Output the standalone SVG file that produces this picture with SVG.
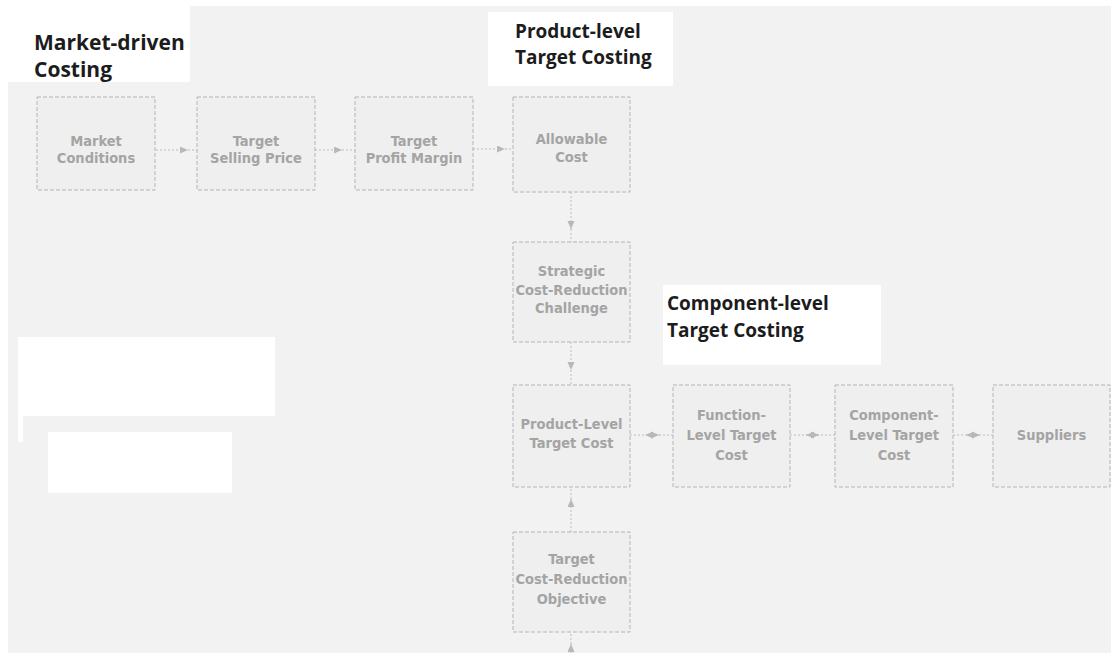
<svg xmlns="http://www.w3.org/2000/svg" width="1117" height="657" viewBox="0 0 1117 657">
<style>
.box{fill:#efefef;stroke:#b4b4b4;stroke-width:1;stroke-dasharray:4 2}
.bt{font-family:"Liberation Sans Narrow","DejaVu Sans Condensed","Roboto Condensed","Liberation Sans",sans-serif;font-stretch:condensed;font-size:14.5px;font-weight:bold;fill:#a4a4a4;text-anchor:middle}
.lbl{font-family:"Open Sans","Liberation Sans",sans-serif;font-weight:bold;fill:#1c1c1c}
.con{fill:none;stroke:#bcbcbc;stroke-width:1;stroke-dasharray:2 2}
.wh{fill:#ffffff}
</style>
<defs>
<marker id="ah" markerUnits="userSpaceOnUse" markerWidth="9" markerHeight="8" refX="8" refY="3.5" orient="auto">
<path d="M0,0 L8,3.5 L0,7 z" fill="#b8b8b8"/>
</marker>
</defs>
<rect x="0" y="0" width="1117" height="657" fill="#ffffff"/>
<rect x="8" y="6" width="1103" height="647" fill="#f2f2f2"/>
<g id="blank-patches">
<rect class="wh" x="18" y="337" width="257" height="79"/>
<rect class="wh" x="18" y="416" width="5" height="26"/>
<rect class="wh" x="48" y="432" width="184" height="61"/>
</g>
<g id="connectors">
<path class="con" d="M156,150 H188" marker-end="url(#ah)"/>
<path class="con" d="M188,150 H197"/>
<path class="con" d="M315,150 H342" marker-end="url(#ah)"/>
<path class="con" d="M342,150 H355"/>
<path class="con" d="M473,149 H505" marker-end="url(#ah)"/>
<path class="con" d="M505,149 H513"/>
<path class="con" d="M571,192 V229" marker-end="url(#ah)"/>
<path class="con" d="M571,229 V242"/>
<path class="con" d="M571,342 V370" marker-end="url(#ah)"/>
<path class="con" d="M571,370 V385"/>
<path class="con" d="M571,532 V499" marker-end="url(#ah)"/>
<path class="con" d="M571,499 V487"/>
<path class="con" d="M571,653 V644" marker-end="url(#ah)"/>
<path class="con" d="M571,644 V632"/>
<path class="con" d="M673,435 H645" marker-end="url(#ah)"/>
<path class="con" d="M630,435 H659" marker-end="url(#ah)"/>
<path class="con" d="M835,435 H806" marker-end="url(#ah)"/>
<path class="con" d="M790,435 H819" marker-end="url(#ah)"/>
<path class="con" d="M993,435 H966" marker-end="url(#ah)"/>
<path class="con" d="M953,435 H980" marker-end="url(#ah)"/>
</g>
<g id="n-market-conditions">
<rect class="box" x="37" y="97" width="118" height="93"/>
<text class="bt" x="96" y="146">Market</text>
<text class="bt" x="96" y="163">Conditions</text>
</g>
<g id="n-target-selling-price">
<rect class="box" x="197" y="97" width="118" height="93"/>
<text class="bt" x="256" y="146">Target</text>
<text class="bt" x="256" y="163">Selling Price</text>
</g>
<g id="n-target-profit-margin">
<rect class="box" x="355" y="97" width="118" height="93"/>
<text class="bt" x="414" y="146">Target</text>
<text class="bt" x="414" y="163">Profit Margin</text>
</g>
<g id="n-allowable-cost">
<rect class="box" x="513" y="97" width="117" height="95"/>
<text class="bt" x="571.5" y="144">Allowable</text>
<text class="bt" x="571.5" y="162">Cost</text>
</g>
<g id="n-strategic">
<rect class="box" x="513" y="242" width="117" height="100"/>
<text class="bt" x="571.5" y="276">Strategic</text>
<text class="bt" x="571.5" y="295">Cost-Reduction</text>
<text class="bt" x="571.5" y="313">Challenge</text>
</g>
<g id="n-product-level">
<rect class="box" x="513" y="385" width="117" height="102"/>
<text class="bt" x="571.5" y="429">Product-Level</text>
<text class="bt" x="571.5" y="448">Target Cost</text>
</g>
<g id="n-function-level">
<rect class="box" x="673" y="385" width="117" height="102"/>
<text class="bt" x="731.5" y="420">Function-</text>
<text class="bt" x="731.5" y="440">Level Target</text>
<text class="bt" x="731.5" y="460">Cost</text>
</g>
<g id="n-component-level">
<rect class="box" x="835" y="385" width="118" height="102"/>
<text class="bt" x="894" y="420">Component-</text>
<text class="bt" x="894" y="440">Level Target</text>
<text class="bt" x="894" y="460">Cost</text>
</g>
<g id="n-suppliers">
<rect class="box" x="993" y="385" width="117" height="102"/>
<text class="bt" x="1051.5" y="440">Suppliers</text>
</g>
<g id="n-objective">
<rect class="box" x="513" y="532" width="117" height="100"/>
<text class="bt" x="571.5" y="564">Target</text>
<text class="bt" x="571.5" y="584">Cost-Reduction</text>
<text class="bt" x="571.5" y="604">Objective</text>
</g>
<g id="label-market-driven">
<rect class="wh" x="0" y="0" width="190" height="82"/>
<text class="lbl" x="34" y="50" font-size="21">Market-driven</text>
<text class="lbl" x="34" y="77" font-size="21">Costing</text>
</g>
<g id="label-product-level">
<rect class="wh" x="488" y="12" width="185" height="74"/>
<text class="lbl" x="515" y="38" font-size="19">Product-level</text>
<text class="lbl" x="515" y="64" font-size="19">Target Costing</text>
</g>
<g id="label-component-level">
<rect class="wh" x="663" y="285" width="218" height="80"/>
<text class="lbl" x="667" y="310" font-size="19">Component-level</text>
<text class="lbl" x="667" y="337" font-size="19">Target Costing</text>
</g>
</svg>
